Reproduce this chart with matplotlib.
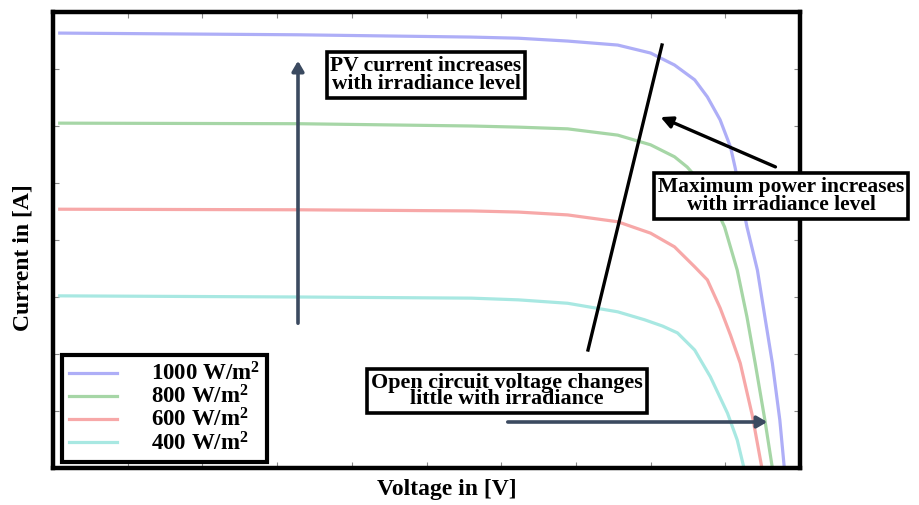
import matplotlib
matplotlib.use("Agg")
import matplotlib.pyplot as plt
from matplotlib.patches import FancyArrowPatch
from matplotlib.lines import Line2D

plt.rcParams["mathtext.fontset"] = "custom"
plt.rcParams["mathtext.rm"] = "Liberation Serif:bold"
plt.rcParams["mathtext.bf"] = "Liberation Serif:bold"
plt.rcParams["mathtext.it"] = "Liberation Serif:bold"

# ---- data (voltage and current in tick units) ----
labels = ["1000 W/m$^\\mathbf{2}$", "800 W/m$^\\mathbf{2}$", "600 W/m$^\\mathbf{2}$", "400 W/m$^\\mathbf{2}$"]
colors = ["#aeaef7", "#a6d6a6", "#f7a8a8", "#a8e8e2"]

v_1000 = [0.09, 3.29, 5.60, 6.23, 6.89, 7.56, 8.00, 8.32, 8.59, 8.76, 8.93, 9.07, 9.13, 9.29, 9.43, 9.53, 9.63, 9.73, 9.79]
i_1000 = [7.63, 7.60, 7.56, 7.54, 7.49, 7.42, 7.28, 7.07, 6.81, 6.51, 6.11, 5.63, 5.28, 4.23, 3.47, 2.65, 1.84, 0.84, 0.00]

v_800 = [0.09, 3.29, 5.60, 6.23, 6.89, 7.56, 8.00, 8.32, 8.49, 8.76, 8.99, 9.16, 9.29, 9.40, 9.53, 9.63]
i_800 = [6.05, 6.04, 6.00, 5.98, 5.95, 5.84, 5.67, 5.46, 5.28, 4.88, 4.23, 3.47, 2.65, 1.84, 0.84, 0.00]

v_600 = [0.09, 3.29, 5.60, 6.23, 6.89, 7.56, 8.00, 8.32, 8.59, 8.76, 8.93, 9.07, 9.20, 9.36, 9.49]
i_600 = [4.54, 4.53, 4.51, 4.49, 4.44, 4.32, 4.12, 3.88, 3.53, 3.30, 2.81, 2.33, 1.84, 0.93, 0.00]

v_400 = [0.09, 3.29, 5.60, 6.23, 6.89, 7.56, 7.92, 8.16, 8.36, 8.59, 8.80, 9.03, 9.16, 9.25]
i_400 = [3.02, 3.00, 2.98, 2.95, 2.89, 2.74, 2.60, 2.49, 2.37, 2.07, 1.60, 0.96, 0.49, 0.00]

volts = [v_1000, v_800, v_600, v_400]
currents = [i_1000, i_800, i_600, i_400]

x_ticks = list(range(1, 10))
y_ticks = list(range(1, 8))

W, H = 920, 505
fig = plt.figure(figsize=(W / 100, H / 100), dpi=100)
fig.patch.set_facecolor("white")
ax = fig.add_axes([53 / W, (H - 468) / H, (800 - 53) / W, (468 - 12) / H])

for v, c, col, lab in zip(volts, currents, colors, labels):
    ax.plot(v, c, color=col, lw=2.3, label=lab, solid_joinstyle="round")

ax.set_xlim(0, 10)
ax.set_ylim(0, 8)
ax.set_xticks(x_ticks)
ax.set_yticks(y_ticks)
ax.tick_params(direction="in", length=4, width=0.8, color="#888888",
               top=True, right=True, labelbottom=False, labelleft=False)
for s in ax.spines.values():
    s.set_linewidth(3.2)
    s.set_color("black")

serif = "Liberation Serif"


def fp(x, y):
    return (x / W, 1 - y / H)


fig.text(*fp(447, 490), "Voltage in [V]", family=serif, weight="bold", fontsize=17,
         ha="center", va="center")
fig.text(*fp(23, 258), "Current in [A]", family=serif, weight="bold", fontsize=17,
         ha="center", va="center", rotation=90)

leg = ax.legend(loc="lower left", bbox_to_anchor=fp(62, 462), bbox_transform=fig.transFigure,
                frameon=True, fancybox=False, framealpha=1,
                prop={"family": serif, "weight": "bold", "size": 16.5},
                handlelength=2.1, handletextpad=1.5, labelspacing=0.0,
                borderpad=0.3, borderaxespad=0.0)
leg.get_frame().set_edgecolor("black")
leg.get_frame().set_linewidth(3)

slate = "#3b4a60"
box = dict(boxstyle="square,pad=0.18", fc="white", ec="black", lw=2.6)

# vertical arrow
fig.add_artist(FancyArrowPatch(fp(298, 326), fp(298, 58), transform=fig.transFigure,
               arrowstyle="-|>,head_length=6,head_width=3.5", color=slate, lw=2.6))
fig.text(*fp(426, 75), "PV current increases\nwith irradiance level", family=serif, weight="bold",
         fontsize=15.5, ha="center", va="center", linespacing=0.9, bbox=box)

# black diagonal line
fig.add_artist(Line2D([662 / W, 588 / W], [1 - 45 / H, 1 - 350 / H],
               transform=fig.transFigure, color="black", lw=2.4))
# arrow to maximum power line
fig.add_artist(FancyArrowPatch(fp(778, 168), fp(658, 116), transform=fig.transFigure,
               arrowstyle="-|>,head_length=7,head_width=3.5", color="black", lw=2.4))
fig.text(*fp(781, 196), "Maximum power increases\nwith irradiance level", family=serif, weight="bold",
         fontsize=15.5, ha="center", va="center", linespacing=0.9, bbox=box)

# open circuit voltage
fig.text(*fp(507, 391), "Open circuit voltage changes\nlittle with irradiance", family=serif, weight="bold",
         fontsize=15.8, ha="center", va="center", linespacing=0.68, bbox=box)
fig.add_artist(FancyArrowPatch(fp(505, 422), fp(770, 422), transform=fig.transFigure,
               arrowstyle="-|>,head_length=6,head_width=3.5", color=slate, lw=2.6))

fig.savefig("out.png", dpi=100)
